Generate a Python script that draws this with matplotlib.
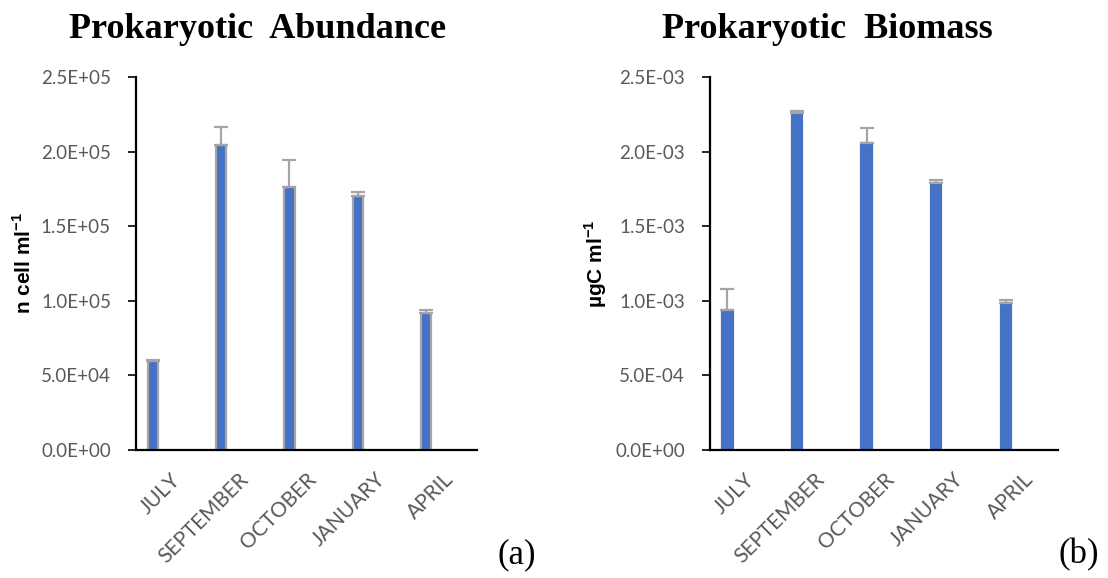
import matplotlib
matplotlib.use("Agg")
import matplotlib.pyplot as plt
from matplotlib.ticker import FuncFormatter, MultipleLocator
import numpy as np

months = ["JULY", "SEPTEMBER", "OCTOBER", "JANUARY", "APRIL"]
abundance = [5.95e4, 2.045e5, 1.765e5, 1.705e5, 9.2e4]
abundance_err = [1.0e3, 1.2e4, 1.8e4, 2.5e3, 1.5e3]
biomass = [9.4e-4, 2.26e-3, 2.055e-3, 1.79e-3, 9.85e-4]
biomass_err = [1.4e-4, 1.0e-5, 1.0e-4, 2.0e-5, 2.0e-5]

BLUE = "#4472C4"
GREY = "#A5A5A5"
TICK_GREY = "#595959"

fig = plt.figure(figsize=(11.08, 5.78), dpi=100)
fig.patch.set_facecolor("white")

panels = [
    dict(rect=[0.1227, 0.2215, 0.3078, 0.6453], values=abundance, err=abundance_err,
         ymax=2.5e5, step=5e4, title="Prokaryotic  Abundance", titlex=0.232,
         ylabel="n cell ml$^{\\mathregular{-1}}$", labelx=-0.296,
         edge=GREY, tag="(a)", tagx=0.466),
    dict(rect=[0.6408, 0.2215, 0.3141, 0.6453], values=biomass, err=biomass_err,
         ymax=2.5e-3, step=5e-4, title="Prokaryotic  Biomass", titlex=0.747,
         ylabel="µgC ml$^{\\mathregular{-1}}$", labelx=-0.290,
         edge=BLUE, tag="(b)", tagx=0.974),
]

x = np.arange(len(months))
for p in panels:
    ax = fig.add_axes(p["rect"])
    ax.bar(x - 0.25, p["values"], width=0.15, color=BLUE,
           edgecolor=p["edge"], linewidth=1.6, zorder=2)
    ax.errorbar(x - 0.25, p["values"], yerr=[np.zeros(len(x)), p["err"]], fmt="none",
                ecolor=GREY, elinewidth=1.6, capsize=5, capthick=1.6, zorder=3)
    ax.set_xlim(-0.5, 4.5)
    ax.set_ylim(0, p["ymax"])
    ax.yaxis.set_major_locator(MultipleLocator(p["step"]))
    ax.yaxis.set_major_formatter(FuncFormatter(lambda v, pos: "{:.1E}".format(v)))
    for s in ["top", "right"]:
        ax.spines[s].set_visible(False)
    for s in ["left", "bottom"]:
        ax.spines[s].set_linewidth(1.6)
        ax.spines[s].set_color("black")
    ax.tick_params(axis="y", length=6, width=1.2, colors="black", labelcolor=TICK_GREY,
                   labelsize=13.5, pad=12)
    ax.tick_params(axis="x", length=0, labelcolor=TICK_GREY, labelsize=15, pad=14)
    ax.set_xticks(x)
    ax.set_xticklabels(months, rotation=45, ha="right", rotation_mode="anchor",
                       fontfamily="Lato")
    for lab in ax.get_yticklabels():
        lab.set_fontfamily("Lato")
    ax.set_ylabel(p["ylabel"], fontsize=15, fontweight="bold", fontfamily="Liberation Sans")
    ax.yaxis.set_label_coords(p["labelx"], 0.5)
    fig.text(p["titlex"], 0.935, p["title"], fontsize=26, fontweight="bold",
             fontfamily="Liberation Serif", ha="center", va="baseline")
    fig.text(p["tagx"], 0.012, p["tag"], fontsize=25, fontfamily="Liberation Serif",
             ha="center", va="bottom")

fig.savefig("out.png", dpi=100, facecolor="white")
